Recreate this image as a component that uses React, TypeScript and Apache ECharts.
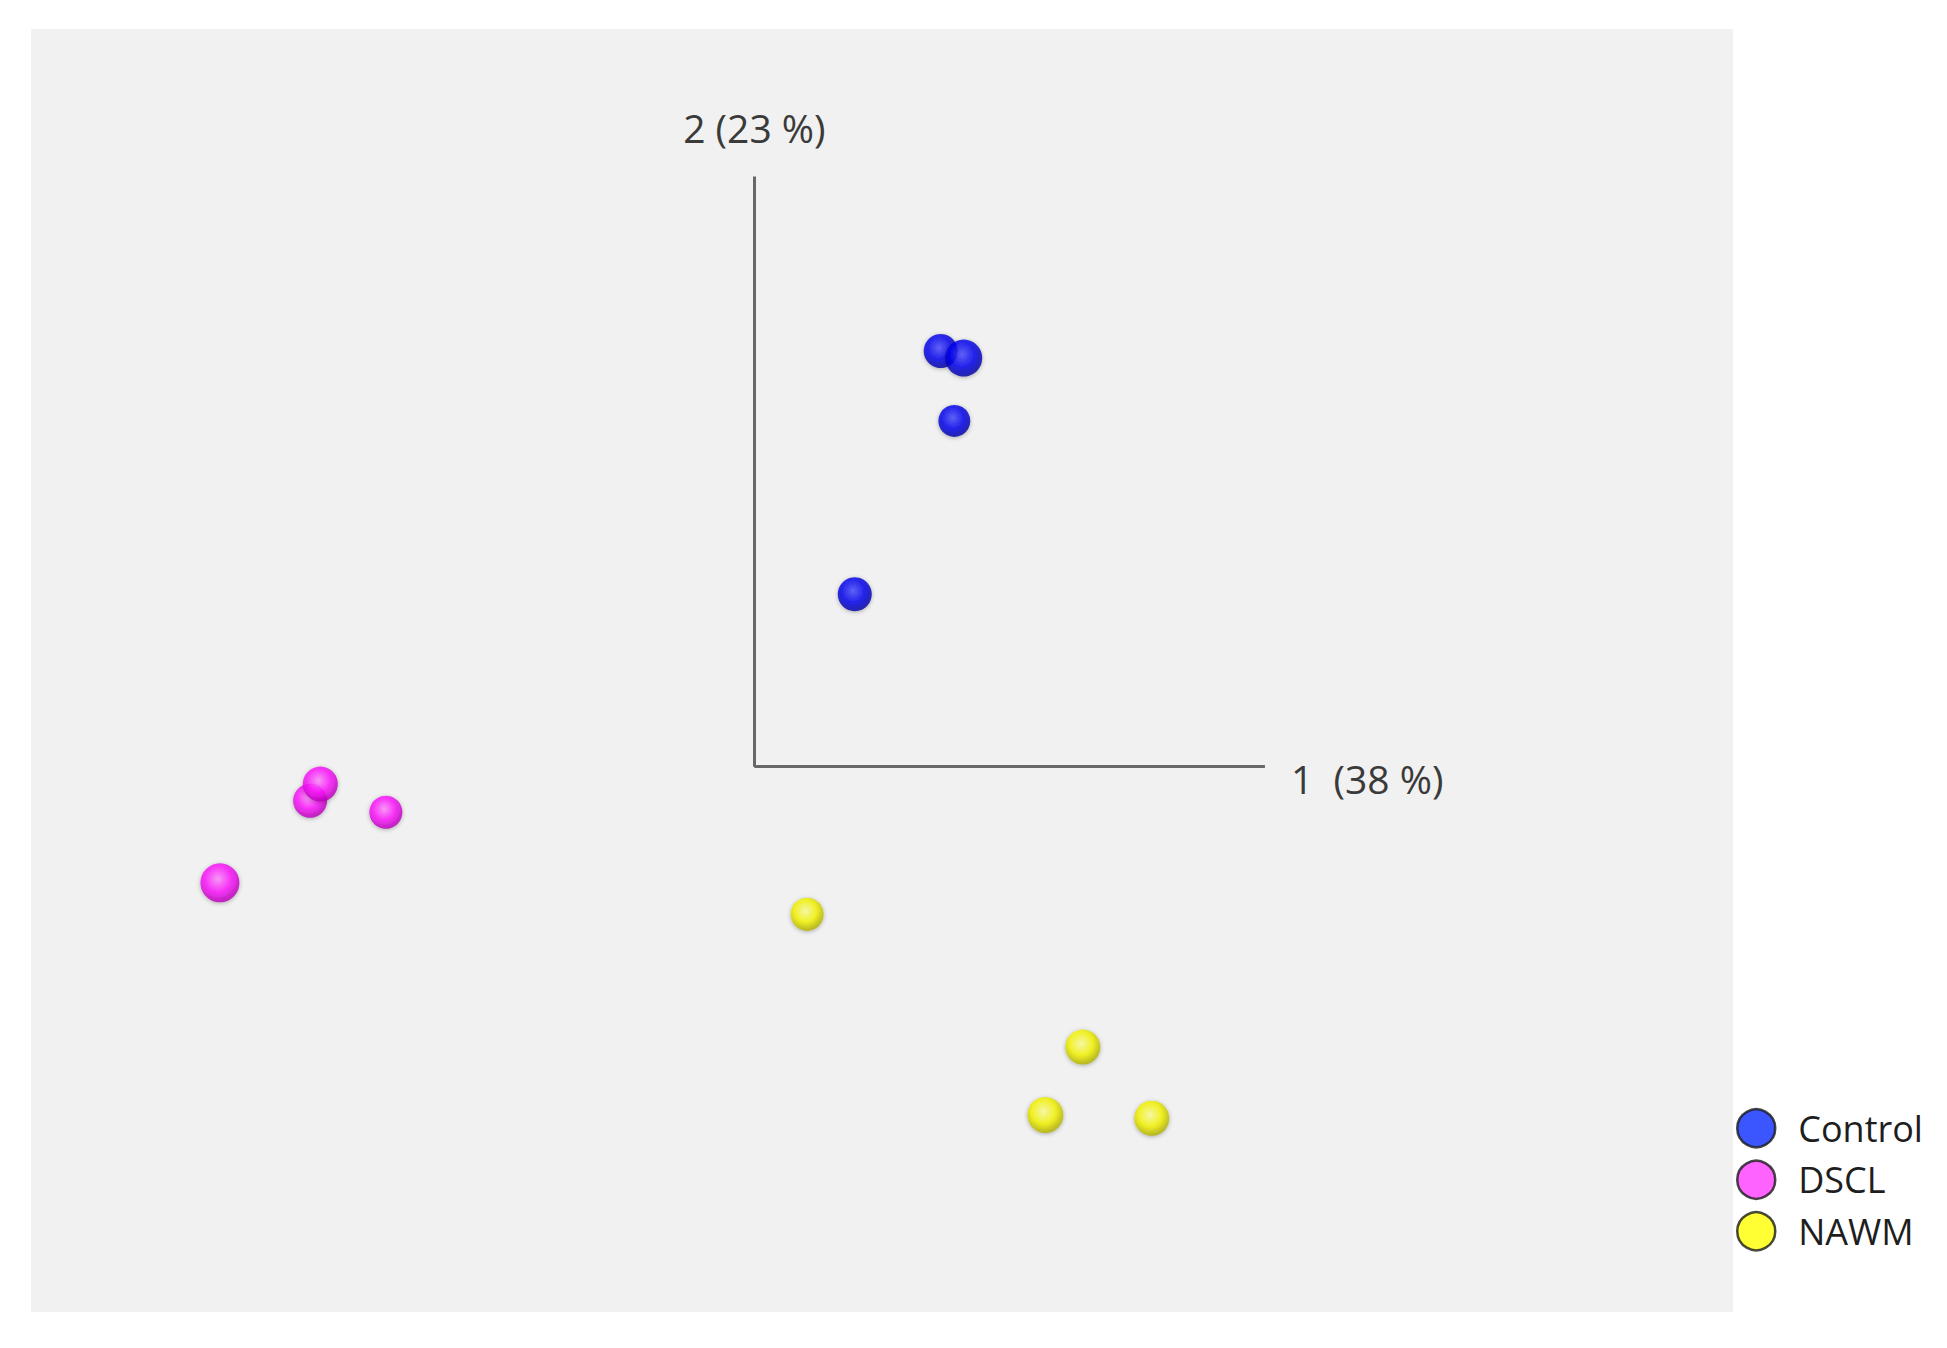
import React, { useEffect, useRef } from "react";
import * as echarts from "echarts";

// PCA scores (arbitrary units)
const controlX = [21.9, 11.8, 23.5, 24.6];
const controlY = [64.8, 26.9, 53.9, 63.7];
const controlSize = [34, 34, 32, 37];

const dsclX = [-62.8, -43.3, -52.2, -51.0];
const dsclY = [-18.1, -7.1, -5.3, -2.7];
const dsclSize = [39, 33, 34, 35];

const nawmX = [6.2, 38.6, 34.2, 46.7];
const nawmY = [-23.0, -43.7, -54.3, -54.8];
const nawmSize = [33, 35, 36, 35];

const groupNames = ["Control", "DSCL", "NAWM"];
const axis1Label = "1  (38 %)";
const axis2Label = "2 (23 %)";
const axis1End = 60;
const axis2End = 92;

function ball(light: string, mid: string, dark: string) {
  return {
    type: "radial",
    x: 0.45,
    y: 0.4,
    r: 0.62,
    colorStops: [
      { offset: 0, color: light },
      { offset: 0.55, color: mid },
      { offset: 1, color: dark },
    ],
  };
}

function makeData(xs: number[], ys: number[], sizes: number[]) {
  return xs.map((x, i) => ({ value: [x, ys[i]], symbolSize: sizes[i] }));
}

export default function App() {
  const ref = useRef<HTMLDivElement>(null);
  useEffect(() => {
    const chart = echarts.init(ref.current!, null, { renderer: "svg" });
    const font = "'Open Sans', 'Noto Sans', sans-serif";
    chart.setOption({
      animation: false,
      backgroundColor: "#ffffff",
      grid: {
        left: 31,
        top: 29,
        width: 1702,
        height: 1283,
        show: true,
        backgroundColor: "#f1f1f1",
        borderWidth: 0,
      },
      xAxis: { type: "value", min: -85, max: 115, show: false },
      yAxis: { type: "value", min: -85, max: 115, show: false },
      legend: {
        orient: "vertical",
        left: 1731,
        top: 1103,
        itemWidth: 38,
        itemHeight: 38,
        itemGap: 11,
        icon: "circle",
        itemStyle: { borderColor: "#1a1a1a", borderWidth: 2.5 },
        textStyle: {
          fontFamily: font,
          fontSize: 36,
          color: "#1e1e1e",
          padding: [0, 0, 0, 18],
          lineHeight: 38,
        },
        data: [
          { name: groupNames[0], itemStyle: { color: "#0a2cff" } },
          { name: groupNames[1], itemStyle: { color: "#ff3cff" } },
          { name: groupNames[2], itemStyle: { color: "#ffff00" } },
        ],
      },
      series: [
        {
          type: "scatter",
          name: groupNames[0],
          data: makeData(controlX, controlY, controlSize),
          itemStyle: {
            color: ball("#4a4aff", "#0000f0", "#00009a"),
            shadowBlur: 4,
            shadowColor: "rgba(0,0,0,0.35)",
            shadowOffsetY: 1,
          },
          markLine: {
            silent: true,
            symbol: "none",
            lineStyle: { color: "#686868", width: 3, type: "solid" },
            label: {
              show: true,
              position: "end",
              fontFamily: font,
              fontSize: 39,
              color: "#3a3a3a",
            },
            data: [
              [
                { coord: [0, 0] },
                {
                  coord: [axis1End, 0],
                  label: { formatter: axis1Label, distance: 26, offset: [0, 12] },
                },
              ],
              [
                { coord: [0, 0] },
                { coord: [0, axis2End], label: { formatter: axis2Label, distance: 30 } },
              ],
            ],
          },
        },
        {
          type: "scatter",
          name: groupNames[1],
          data: makeData(dsclX, dsclY, dsclSize),
          itemStyle: {
            color: ball("#ff8cff", "#ff10ff", "#b000b0"),
            shadowBlur: 4,
            shadowColor: "rgba(0,0,0,0.35)",
            shadowOffsetY: 1,
          },
        },
        {
          type: "scatter",
          name: groupNames[2],
          data: makeData(nawmX, nawmY, nawmSize),
          itemStyle: {
            color: ball("#ffffa0", "#f6f600", "#a8a800"),
            shadowBlur: 4,
            shadowColor: "rgba(0,0,0,0.35)",
            shadowOffsetY: 1,
          },
        },
      ],
    });
    return () => chart.dispose();
  }, []);
  return (
    <div
      ref={ref}
      style={{ position: "absolute", left: 0, top: 0, width: 1947, height: 1348 }}
    />
  );
}
